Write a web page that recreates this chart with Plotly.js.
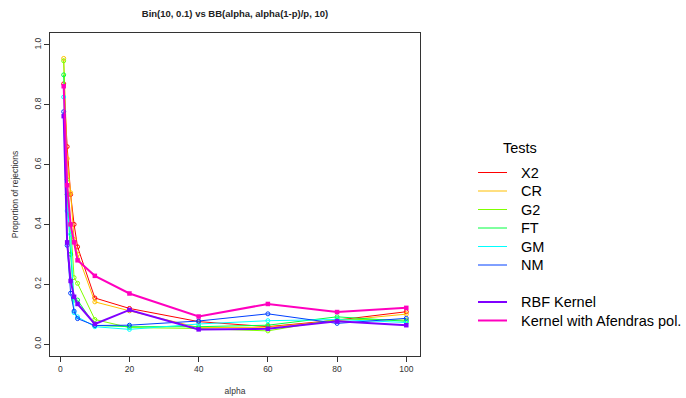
<!DOCTYPE html>
<html>
<head>
<meta charset="utf-8">
<script src="https://cdn.plot.ly/plotly-3.0.1.min.js"></script>
<style>html,body{margin:0;padding:0;background:#fff;}#chart{width:686px;height:398px;}</style>
</head>
<body>
<div id="chart"></div>
<script>
// ---- data ----
const alpha = [1, 2, 3, 4, 5, 10, 20, 40, 60, 80, 100];
const X2  = [0.870, 0.660, 0.500, 0.400, 0.325, 0.154, 0.119, 0.075, 0.058, 0.080, 0.108];
const CR  = [0.955, 0.620, 0.506, 0.350, 0.300, 0.141, 0.111, 0.055, 0.056, 0.078, 0.100];
const G2  = [0.947, 0.550, 0.400, 0.222, 0.203, 0.082, 0.055, 0.052, 0.044, 0.083, 0.080];
const FT  = [0.900, 0.500, 0.300, 0.147, 0.147, 0.062, 0.058, 0.058, 0.063, 0.091, 0.076];
const GM  = [0.826, 0.445, 0.367, 0.105, 0.091, 0.058, 0.049, 0.067, 0.078, 0.082, 0.072];
const NM  = [0.777, 0.330, 0.170, 0.110, 0.085, 0.062, 0.063, 0.077, 0.101, 0.069, 0.086];
const RBF = [0.762, 0.340, 0.211, 0.158, 0.134, 0.067, 0.114, 0.049, 0.051, 0.076, 0.063];
const AFE = [0.862, 0.531, 0.400, 0.340, 0.280, 0.228, 0.169, 0.092, 0.134, 0.107, 0.121];
const seriesNames = ["X2", "CR", "G2", "FT", "GM", "NM", "RBF Kernel", "Kernel with Afendras pol."];
const seriesData = [X2, CR, G2, FT, GM, NM, RBF, AFE];
const xTicks = [0, 20, 40, 60, 80, 100];
const yTicks = [0, 0.2, 0.4, 0.6, 0.8, 1.0];
const yTickText = ["0.0", "0.2", "0.4", "0.6", "0.8", "1.0"];

// ---- styles ----
const colors = ["#FF0000", "#FFBF00", "#80FF00", "#00FF40", "#00FFFF", "#0040FF", "#8000FF", "#FF00BF"];
const isKernel = [false, false, false, false, false, false, true, true];
const FONT = "Liberation Sans, Arial, sans-serif";
const M = {l: 50, r: 266, t: 33, b: 42};
const W = 686, H = 398;
const PW = W - M.l - M.r, PH = H - M.t - M.b;
const px2x = p => (p - M.l) / PW;
const py2y = p => 1 - (p - M.t) / PH;

const traces = seriesData.map((ys, i) => ({
  x: alpha, y: ys, type: "scatter", mode: "lines+markers", name: seriesNames[i],
  showlegend: false,
  line: {color: colors[i], width: isKernel[i] ? 2 : 1},
  marker: isKernel[i]
    ? {symbol: "square", size: 4.5, color: colors[i]}
    : {symbol: "circle-open", size: 4, color: colors[i], line: {width: 1, color: colors[i]}}
}));

// manual legend (R style)
const legendY = [172.5, 191, 209.5, 228, 246.5, 265, 302, 320.5];
const shapes = [], annotations = [];
seriesNames.forEach((n, i) => {
  shapes.push({type: "line", xref: "paper", yref: "paper",
    x0: px2x(478), x1: px2x(507), y0: py2y(legendY[i]), y1: py2y(legendY[i]),
    line: {color: colors[i], width: isKernel[i] ? 2 : 1}});
  annotations.push({xref: "paper", yref: "paper", x: px2x(519), y: py2y(legendY[i]),
    xanchor: "left", yanchor: "middle", showarrow: false, text: n,
    font: {family: FONT, size: 14.5, color: "#000"}});
});
annotations.push({xref: "paper", yref: "paper", x: px2x(519.5), y: py2y(148),
  xanchor: "center", yanchor: "middle", showarrow: false, text: "Tests",
  font: {family: FONT, size: 14.5, color: "#000"}});

const axisCommon = {
  showline: true, mirror: true, linecolor: "#333", linewidth: 1,
  ticks: "outside", ticklen: 5, tickwidth: 1, tickcolor: "#333",
  showgrid: false, zeroline: false,
  tickfont: {family: FONT, size: 8.5, color: "#333"}
};

const layout = {
  width: W, height: H, margin: M,
  paper_bgcolor: "#fff", plot_bgcolor: "#fff",
  showlegend: false,
  title: {text: "<b>Bin(10, 0.1) vs BB(alpha, alpha(1-p)/p, 10)</b>",
    font: {family: FONT, size: 9.5, color: "#222"},
    xref: "paper", x: 0.5, xanchor: "center", yref: "container", y: 1 - 14/H, yanchor: "middle"},
  xaxis: Object.assign({}, axisCommon, {
    range: [-2.96, 103.96], tickvals: xTicks, ticktext: xTicks.map(String),
    title: {text: "alpha", font: {family: FONT, size: 8.5, color: "#333"}, standoff: 14}
  }),
  yaxis: Object.assign({}, axisCommon, {
    range: [-0.04, 1.04], tickvals: yTicks, ticktext: yTickText, tickangle: -90,
    title: {text: "Proportion of rejections", font: {family: FONT, size: 8.5, color: "#333"}, standoff: 12}
  }),
  shapes: shapes, annotations: annotations
};

Plotly.newPlot("chart", traces, layout, {displayModeBar: false, staticPlot: true});
</script>
</body>
</html>
